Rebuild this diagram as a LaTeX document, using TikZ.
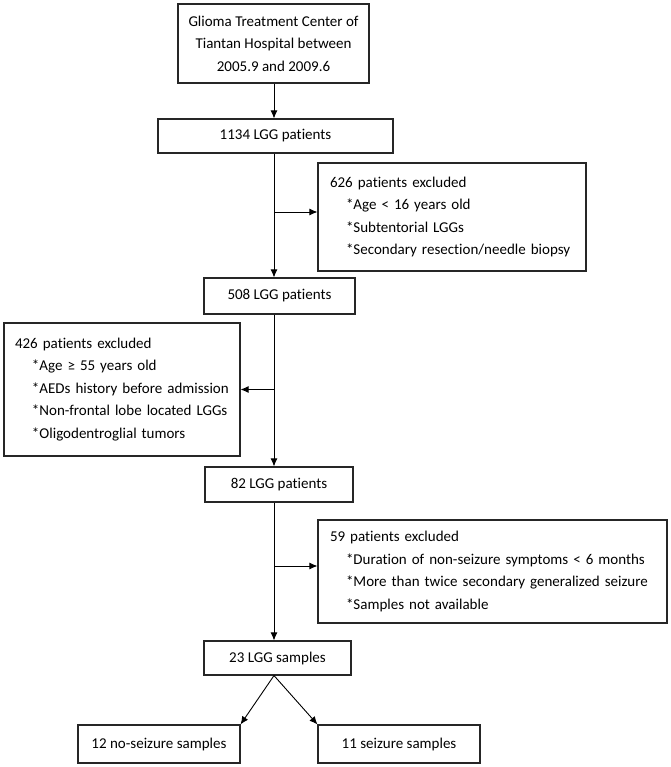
\documentclass[tikz,border=0pt]{standalone}
\usepackage{fontspec}
\setmainfont[Ligatures={NoCommon}]{Carlito}
\usetikzlibrary{arrows.meta}
\begin{document}
\begin{tikzpicture}[x=1pt,y=-1pt,
  box/.style={draw=black!85, line width=1.1pt, inner sep=0pt, align=center,
    font=\fontsize{15}{22.5}\selectfont},
  exbox/.style={draw=black!85, line width=1.1pt, inner xsep=12pt, inner ysep=0pt, align=left,
    font=\fontsize{15}{22.5}\selectfont},
  arr/.style={line width=0.9pt, -{Latex[length=8pt,width=7pt]}}]
\useasboundingbox (0,0) rectangle (670,767);
\coordinate (sp) at (274,0);
\node[box, minimum width=191, minimum height=79] (b1) at (273.5,43.5)
  {Glioma Treatment Center of\\Tiantan Hospital between\\2005.9 and 2009.6};
\node[box, minimum width=235, minimum height=34] (b2) at (275.5,136) {1134 LGG patients};
\node[exbox, minimum height=108, text width=244] (b3) at (452,217)
  {626 patients excluded\\
   \hspace*{16pt}*Age < 16 years old\\
   \hspace*{16pt}*Subtentorial LGGs\\
   \hspace*{16pt}*Secondary resection/needle biopsy};
\node[box, minimum width=151, minimum height=36] (b4) at (279.5,296) {508 LGG patients};
\node[exbox, inner xsep=11pt, minimum height=133, text width=214] (b5) at (122,389.5)
  {426 patients excluded\\
   \hspace*{17pt}*Age ≥ 55 years old\\
   \hspace*{17pt}*AEDs history before admission\\
   \hspace*{17pt}*Non-frontal lobe located LGGs\\
   \hspace*{17pt}*Oligodentroglial tumors};
\node[box, minimum width=148, minimum height=35] (b6) at (279,484.5) {82 LGG patients};
\node[exbox, minimum height=103, text width=325] (b7) at (492.5,571.5)
  {59 patients excluded\\
   \hspace*{16pt}*Duration of non-seizure symptoms < 6 months\\
   \hspace*{16pt}*More than twice secondary generalized seizure\\
   \hspace*{16pt}*Samples not available};
\node[box, minimum width=147, minimum height=34] (b8) at (277.5,658) {23 LGG samples};
\node[box, minimum width=162, minimum height=38] (b9) at (159,744) {12 no-seizure samples};
\node[box, minimum width=162, minimum height=38] (b10) at (399,744) {11 seizure samples};
\coordinate (j1) at (274,212);
\coordinate (j3) at (274,566);
\draw[arr] (b1.south -| sp) -- (b2.north -| sp);
\draw[arr] (b2.south -| sp) -- (b4.north -| sp);
\draw[arr] (j1) -- (j1 -| b3.west);
\draw[arr] (b4.south -| sp) -- (b6.north -| sp);
\draw[arr] (sp |- b5.east) -- (b5.east);
\draw[arr] (b6.south -| sp) -- (b8.north -| sp);
\draw[arr] (j3) -- (j3 -| b7.west);
\draw[arr] (b8.south -| sp) -- (b9.north east);
\draw[arr] (b8.south -| sp) -- (b10.north west);
\end{tikzpicture}
\end{document}
